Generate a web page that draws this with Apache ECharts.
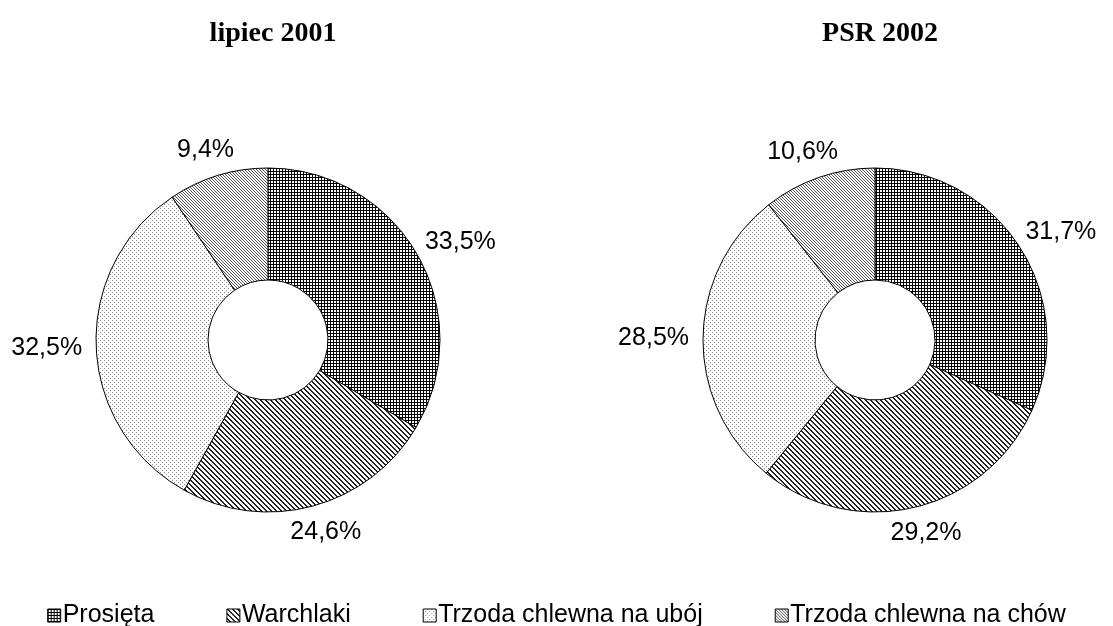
<!DOCTYPE html>
<html>
<head>
<meta charset="utf-8">
<script src="https://cdn.jsdelivr.net/npm/echarts@6/dist/echarts.min.js"></script>
<style>
  html, body { margin: 0; padding: 0; background: #fff; }
  #chart { width: 1113px; height: 626px; }
</style>
</head>
<body>
<div id="chart"></div>
<script>
const categories = ['Prosięta', 'Warchlaki', 'Trzoda chlewna na ubój', 'Trzoda chlewna na chów']
const titles = ['lipiec 2001', 'PSR 2002']
const values2001 = [33.5, 24.6, 32.5, 9.4]
const values2002 = [31.7, 29.2, 28.5, 10.6]

const centers = [[268, 340], [875, 340]]
const outerR = 172
const innerR = 60
const labelGap = 14

// small bitmap tiles used as fill patterns
function makeTile (w, h, draw) {
  const c = document.createElement('canvas')
  c.width = w
  c.height = h
  const ctx = c.getContext('2d')
  ctx.fillStyle = '#fff'
  ctx.fillRect(0, 0, w, h)
  draw(ctx)
  return { image: c, repeat: 'repeat' }
}

const patterns = [
  // gęsta kratka
  makeTile(3, 3, ctx => {
    ctx.fillStyle = '#000'
    ctx.fillRect(0, 0, 3, 1)
    ctx.fillRect(0, 0, 1, 3)
  }),
  // ukośne paski
  makeTile(5, 5, ctx => {
    ctx.fillStyle = '#222'
    for (let i = 0; i < 5; i++) {
      ctx.fillRect(i, i, 1, 1)
      ctx.fillRect((i + 1) % 5, i, 1, 1)
    }
  }),
  // kropki
  makeTile(4, 4, ctx => {
    ctx.fillStyle = '#8a8a8a'
    ctx.fillRect(0, 0, 1, 1)
    ctx.fillRect(2, 2, 1, 1)
  }),
  // drobne ukośne szare
  makeTile(3, 3, ctx => {
    ctx.fillStyle = '#555'
    for (let i = 0; i < 3; i++) ctx.fillRect(i, i, 1, 1)
  })
]

const allValues = [values2001, values2002]

function pieData (values) {
  return values.map((v, i) => ({
    value: v,
    name: categories[i],
    itemStyle: { color: patterns[i] }
  }))
}

// place each label just outside its slice, pushed away along the bisector
function placeLabel (params) {
  const values = allValues[params.seriesIndex]
  const total = values.reduce((a, b) => a + b, 0)
  let before = 0
  for (let i = 0; i < params.dataIndex; i++) before += values[i]
  const mid = (before + values[params.dataIndex] / 2) / total * Math.PI * 2
  const ux = Math.sin(mid)
  const uy = -Math.cos(mid)
  const c = centers[params.seriesIndex]
  const r = outerR + labelGap
  const w = params.labelRect.width
  const h = params.labelRect.height
  return {
    x: c[0] + ux * r + ux * w / 2,
    y: c[1] + uy * r + uy * h / 2,
    align: 'center',
    verticalAlign: 'middle'
  }
}

function pieSeries (idx) {
  return {
    type: 'pie',
    center: centers[idx],
    radius: [innerR, outerR],
    startAngle: 90,
    clockwise: true,
    avoidLabelOverlap: false,
    silent: true,
    itemStyle: { borderColor: '#000', borderWidth: 1 },
    label: {
      position: 'outside',
      fontFamily: 'Liberation Sans, Arial, sans-serif',
      fontSize: 25,
      color: '#000',
      formatter: p => String(p.value).replace('.', ',') + '%'
    },
    labelLine: { show: false, length: 10, length2: 0 },
    labelLayout: placeLabel,
    data: pieData(allValues[idx])
  }
}

const titleStyle = {
  fontFamily: 'Liberation Serif, Times New Roman, serif',
  fontSize: 28,
  fontWeight: 'bold',
  color: '#000'
}

const chart = echarts.init(document.getElementById('chart'))
chart.setOption({
  animation: false,
  title: [
    { text: titles[0], left: centers[0][0], top: 15, textAlign: 'center', textStyle: titleStyle },
    { text: titles[1], left: centers[1][0], top: 15, textAlign: 'center', textStyle: titleStyle }
  ],
  legend: {
    top: 598,
    left: 'center',
    icon: 'rect',
    itemWidth: 13,
    itemHeight: 13,
    itemGap: 72,
    selectedMode: false,
    data: categories,
    itemStyle: { borderColor: '#000', borderWidth: 1 },
    textStyle: { fontFamily: 'Liberation Sans, Arial, sans-serif', fontSize: 25, color: '#000', padding: [0, 0, 0, -3] }
  },
  series: [pieSeries(0), pieSeries(1)]
})
</script>
</body>
</html>
